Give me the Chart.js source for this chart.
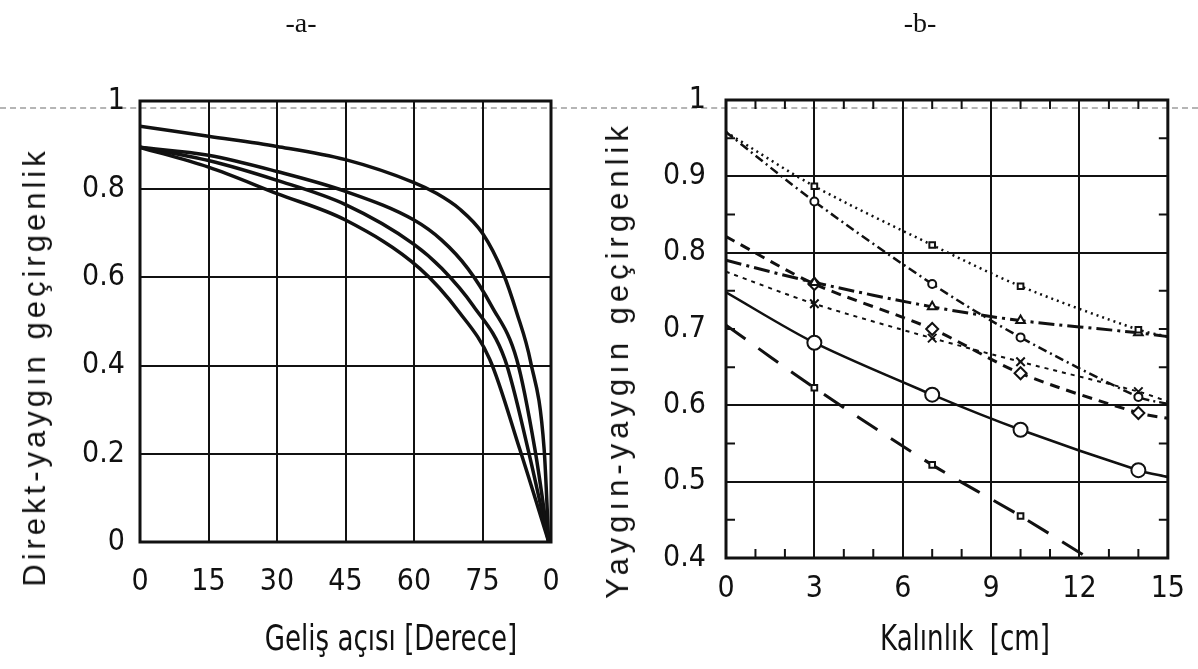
<!DOCTYPE html>
<html>
<head>
<meta charset="utf-8">
<script src="https://cdn.jsdelivr.net/npm/chart.js@4"></script>
<style>
  body { margin: 0; background: #fff; }
  #wrap { position: relative; width: 1198px; height: 669px; overflow: hidden; background: #fff; }
  canvas { position: absolute; top: 0; }
  .t { position: absolute; white-space: nowrap; color: #111; transform: translate(-50%, -50%); }
  .panel { font-family: 'Liberation Serif', 'DejaVu Serif', serif; font-size: 28px; }
  .ax { font-family: 'DejaVu Sans Condensed', 'Liberation Sans', sans-serif; font-size: 29px;
        transform: translate(-50%, -50%) scaleY(1.25); }
  .ay { font-family: 'Liberation Sans', 'DejaVu Sans', sans-serif; font-size: 31px; letter-spacing: 4px;
        transform: translate(-50%, -50%) rotate(-90deg); }
  #scan { position: absolute; left: 0; top: 107px; width: 1198px; border-top: 2px dashed #b5b5b5; }
</style>
</head>
<body>
<div id="wrap">
  <div id="scan"></div>
  <canvas id="chartA" width="600" height="669" style="left:0"></canvas>
  <canvas id="chartB" width="598" height="669" style="left:600px"></canvas>
  <div class="t panel" style="left:301px; top:23px">-a-</div>
  <div class="t panel" style="left:920px; top:23px">-b-</div>
  <div class="t ax" style="left:391px; top:637px">Geliş açısı [Derece]</div>
  <div class="t ax" style="left:965px; top:637px">Kalınlık&nbsp; [cm]</div>
  <div class="t ay" style="left:35px; top:367px">Direkt-yaygın geçirgenlik</div>
  <div class="t ay" style="left:618px; top:360px; letter-spacing:5px">Yaygın-yaygın geçirgenlik</div>
</div>
<script>
// -a- : direkt-yaygın geçirgenlik vs geliş açısı
const angleTickLabels = ['0', '15', '30', '45', '60', '75', '0'];
const c1Angle = [0, 15, 30, 45, 60, 65, 70, 75, 79.5, 82.5, 85.5, 88.5, 89.5];
const c1Value = [0.943, 0.92, 0.897, 0.867, 0.815, 0.79, 0.755, 0.70, 0.61, 0.52, 0.41, 0.21, 0];
const c2Angle = [0, 15, 30, 45, 60, 66, 71.8, 77, 82.5, 86.5, 89.5];
const c2Value = [0.895, 0.877, 0.84, 0.795, 0.73, 0.685, 0.62, 0.535, 0.414, 0.209, 0];
const c3Angle = [0, 15, 30, 45, 60, 66.1, 73, 79.9, 85, 89.5];
const c3Value = [0.895, 0.865, 0.82, 0.765, 0.675, 0.62, 0.535, 0.414, 0.209, 0];
const c4Angle = [0, 15, 30, 45, 61.3, 70, 76.6, 83.2, 89.5];
const c4Value = [0.895, 0.85, 0.79, 0.73, 0.62, 0.52, 0.414, 0.209, 0];

// -b- : yaygın-yaygın geçirgenlik vs kalınlık
const kalinlik = [0, 3, 7, 10, 14, 15];
const markerKalinlik = [3, 7, 10, 14];
const s1 = [0.958, 0.887, 0.81, 0.756, 0.699, 0.69];
const s2 = [0.958, 0.867, 0.759, 0.689, 0.611, 0.602];
const s3 = [0.79, 0.761, 0.729, 0.711, 0.695, 0.69];
const s4 = [0.821, 0.759, 0.70, 0.642, 0.59, 0.583];
const s5 = [0.775, 0.733, 0.688, 0.657, 0.618, 0.605];
const s6 = [0.748, 0.682, 0.614, 0.568, 0.515, 0.506];
const s7Kalinlik = [0, 3, 7, 10, 12.3];
const s7 = [0.705, 0.623, 0.522, 0.455, 0.4];

const minorX = [1, 2, 4, 5, 7, 8, 10, 11, 13, 14];
const minorY = [0.45, 0.55, 0.65, 0.7, 0.75, 0.85, 0.95];

const INK = '#111';
const tickFont = { family: "'DejaVu Sans Condensed', 'Liberation Sans', sans-serif", size: 30 };
const fmt = v => String(+v.toFixed(2));

const pts = (xs, ys) => xs.map((x, i) => ({ x: x, y: ys[i] }));

const frame = {
  id: 'frame',
  afterDatasetsDraw(chart, args, opts) {
    const { ctx, chartArea: a, scales } = chart;
    ctx.save();
    ctx.strokeStyle = INK;
    ctx.lineWidth = 2;
    (opts.minorX || []).forEach(v => {
      const px = scales.x.getPixelForValue(v);
      ctx.beginPath();
      ctx.moveTo(px, a.top); ctx.lineTo(px, a.top + 9);
      ctx.moveTo(px, a.bottom); ctx.lineTo(px, a.bottom - 9);
      ctx.stroke();
    });
    (opts.minorY || []).forEach(v => {
      const py = scales.y.getPixelForValue(v);
      ctx.beginPath();
      ctx.moveTo(a.left, py); ctx.lineTo(a.left + 9, py);
      ctx.moveTo(a.right, py); ctx.lineTo(a.right - 9, py);
      ctx.stroke();
    });
    ctx.lineWidth = 3;
    ctx.strokeRect(a.left, a.top, a.width, a.height);
    ctx.restore();
  }
};

function curve(xs, ys) {
  return {
    data: pts(xs, ys),
    borderColor: INK,
    borderWidth: 3.5,
    pointRadius: 0,
    cubicInterpolationMode: 'monotone'
  };
}

new Chart(document.getElementById('chartA'), {
  type: 'line',
  data: {
    datasets: [
      curve(c1Angle, c1Value),
      curve(c2Angle, c2Value),
      curve(c3Angle, c3Value),
      curve(c4Angle, c4Value)
    ]
  },
  options: {
    responsive: false,
    animation: false,
    layout: { padding: { left: 0, top: 101, right: 49, bottom: 0 } },
    plugins: { legend: { display: false }, tooltip: { enabled: false }, frame: {} },
    scales: {
      x: {
        type: 'linear', min: 0, max: 90,
        afterFit: s => { s.height = 127; },
        border: { display: false },
        grid: { color: INK, lineWidth: 2, drawTicks: false },
        ticks: {
          stepSize: 15, padding: 22, color: INK, font: tickFont,
          callback: (v, i) => angleTickLabels[i]
        }
      },
      y: {
        min: 0, max: 1,
        afterFit: s => { s.width = 140; },
        border: { display: false },
        grid: { color: INK, lineWidth: 2, drawTicks: false },
        ticks: { stepSize: 0.2, padding: 15, color: INK, font: tickFont, callback: fmt }
      }
    }
  },
  plugins: [frame]
});

function series(xs, ys, dash, style, radius, width) {
  return {
    data: pts(xs, ys),
    borderColor: INK,
    borderWidth: width,
    borderDash: dash,
    tension: 0.3,
    pointStyle: style,
    pointRadius: c => markerKalinlik.includes(c.raw.x) ? radius : 0,
    pointBackgroundColor: '#fff',
    pointBorderColor: INK,
    pointBorderWidth: 2
  };
}

new Chart(document.getElementById('chartB'), {
  type: 'line',
  data: {
    datasets: [
      series(kalinlik, s1, [2, 4], 'rect', 4, 2.5),
      series(kalinlik, s2, [9, 4, 2, 4], 'circle', 4, 2.5),
      series(kalinlik, s3, [16, 5, 3, 5], 'triangle', 5, 3),
      series(kalinlik, s4, [10, 7], 'rectRot', 6, 3),
      series(kalinlik, s5, [4, 5], 'crossRot', 6, 2),
      series(kalinlik, s6, [], 'circle', 7, 2.5),
      series(s7Kalinlik, s7, [24, 16], 'rect', 4, 3)
    ]
  },
  options: {
    responsive: false,
    animation: false,
    layout: { padding: { left: 0, top: 100, right: 21, bottom: 0 } },
    plugins: { legend: { display: false }, tooltip: { enabled: false }, frame: { minorX: minorX, minorY: minorY } },
    scales: {
      x: {
        type: 'linear', min: 0, max: 15,
        afterFit: s => { s.height = 111; },
        border: { display: false },
        grid: { color: INK, lineWidth: 2, drawTicks: false },
        ticks: { stepSize: 3, padding: 13, color: INK, font: tickFont }
      },
      y: {
        min: 0.4, max: 1,
        afterFit: s => { s.width = 126; },
        border: { display: false },
        grid: {
          lineWidth: 2, drawTicks: false,
          color: c => Math.abs(c.tick.value - 0.7) < 1e-6 ? 'rgba(0,0,0,0)' : INK
        },
        ticks: { stepSize: 0.1, padding: 20, color: INK, font: tickFont, callback: fmt }
      }
    }
  },
  plugins: [frame]
});
</script>
</body>
</html>
